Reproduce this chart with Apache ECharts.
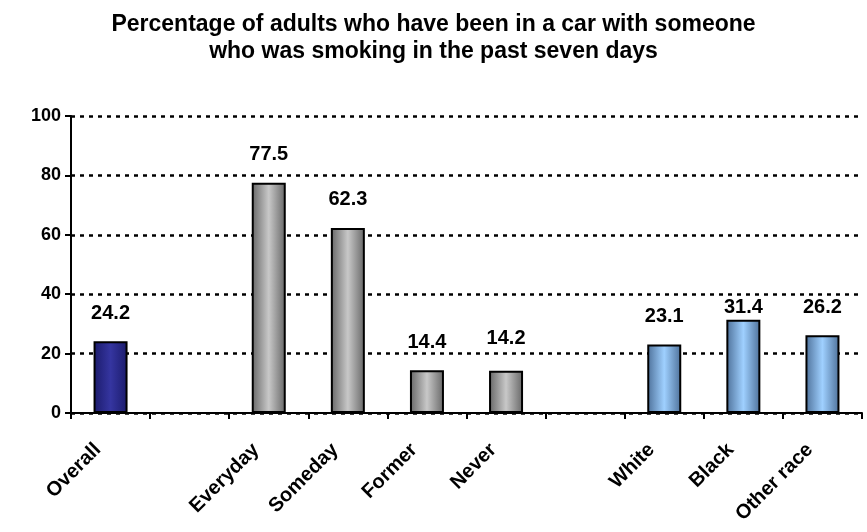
<!DOCTYPE html>
<html>
<head>
<meta charset="utf-8">
<script src="https://cdn.jsdelivr.net/npm/echarts@6/dist/echarts.min.js"></script>
<style>
  html, body { margin: 0; padding: 0; background: #fff; }
  #chart { width: 867px; height: 532px; }
</style>
</head>
<body>
<div id="chart"></div>
<script>
const categories = ['Overall', '', 'Everyday', 'Someday', 'Former', 'Never', '', 'White', 'Black', 'Other race']
const values = [24.2, null, 77.5, 62.3, 14.4, 14.2, null, 23.1, 31.4, 26.2]
const groups = ['overall', null, 'smoker', 'smoker', 'smoker', 'smoker', null, 'race', 'race', 'race']
const yTicks = [0, 20, 40, 60, 80, 100]

const palette = {
  overall: ['#1b1b6b', '#3535a0', '#1b1b6b'],
  smoker: ['#666666', '#c8c8c8', '#666666'],
  race: ['#4d7099', '#9fd0ff', '#4d7099']
}
// a couple of value labels sit at a different height in the original
const labelGap = { Never: 22, Black: 2 }

function grad(c) {
  return new echarts.graphic.LinearGradient(0, 0, 1, 0, [
    { offset: 0, color: c[0] },
    { offset: 0.5, color: c[1] },
    { offset: 1, color: c[2] }
  ])
}

const chart = echarts.init(document.getElementById('chart'))
const font = 'Liberation Sans, Arial, sans-serif'

chart.setOption({
  animation: false,
  title: {
    text: 'Percentage of adults who have been in a car with someone\nwho was smoking in the past seven days',
    left: 'center',
    top: 6,
    textStyle: { fontFamily: font, fontSize: 23, fontWeight: 'bold', color: '#000', lineHeight: 27 }
  },
  grid: { left: 71, right: 5, top: 116, bottom: 119 },
  xAxis: {
    type: 'category',
    data: categories,
    axisLine: { lineStyle: { color: '#000', width: 2 } },
    axisTick: { show: true, alignWithLabel: false, length: 6, lineStyle: { color: '#000', width: 2 } },
    axisLabel: {
      interval: 0, rotate: 45, margin: 21, padding: [0, 18, 0, 0],
      fontFamily: font, fontSize: 20, fontWeight: 'bold', color: '#000'
    }
  },
  yAxis: {
    type: 'value',
    min: yTicks[0],
    max: yTicks[yTicks.length - 1],
    interval: 20,
    axisLine: { show: true, lineStyle: { color: '#000', width: 2 } },
    axisTick: { show: true, length: 6, lineStyle: { color: '#000', width: 2 } },
    axisLabel: { margin: 10, fontFamily: font, fontSize: 18, fontWeight: 'bold', color: '#000' },
    splitLine: { show: true, lineStyle: { color: '#000', width: 2.5, type: [4, 5] } }
  },
  series: [{
    type: 'bar',
    barWidth: 34,
    data: values.map((v, i) => {
      const item = { value: v }
      if (groups[i]) item.itemStyle = { color: grad(palette[groups[i]]), borderColor: '#000', borderWidth: 2 }
      if (labelGap[categories[i]] != null) item.label = { distance: labelGap[categories[i]] }
      return item
    }),
    label: {
      show: true, position: 'top', distance: 18,
      fontFamily: font, fontSize: 20, fontWeight: 'bold', color: '#000',
      formatter: p => p.value == null ? '' : p.value.toFixed(1)
    }
  }]
})
</script>
</body>
</html>
